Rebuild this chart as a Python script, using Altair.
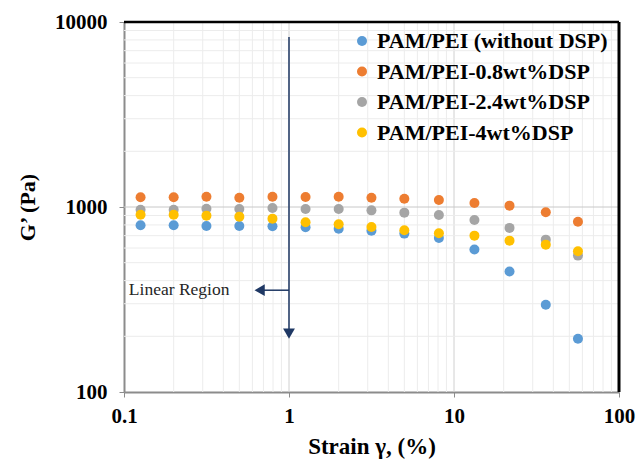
import altair as alt
import pandas as pd

# ---- data ----
strain = [0.126, 0.2, 0.316, 0.5, 0.794, 1.26, 2.0, 3.16, 5.0, 8.1, 13.3, 21.7, 36.0, 56.4]
g_pam = [796, 796, 790, 790, 787, 777, 764, 745, 718, 680, 589, 448, 296, 194]
g_08 = [1128, 1128, 1137, 1123, 1137, 1132, 1137, 1123, 1109, 1091, 1051, 1017, 936, 833]
g_24 = [967, 967, 979, 975, 988, 975, 975, 959, 932, 905, 851, 771, 666, 546]
g_4 = [909, 909, 898, 887, 865, 827, 806, 780, 749, 721, 700, 658, 626, 577]
series = ["PAM/PEI (without DSP)", "PAM/PEI-0.8wt%DSP", "PAM/PEI-2.4wt%DSP", "PAM/PEI-4wt%DSP"]
colors = ["#5B9BD5", "#ED7D31", "#A5A5A5", "#FFC000"]

x_ticks = [0.1, 1, 10, 100]
y_ticks = [100, 1000, 10000]
x_minor = [0.2, 0.3, 0.4, 0.5, 0.6, 0.7, 0.8, 0.9, 2, 3, 4, 5, 6, 7, 8, 9,
           20, 30, 40, 50, 60, 70, 80, 90]
y_minor = [200, 300, 400, 500, 600, 700, 800, 900,
           2000, 3000, 4000, 5000, 6000, 7000, 8000, 9000]
x_major = [1, 10]
y_major = [1000]

# annotation (data coordinates)
v_arrow_x = [1]
v_arrow_y = [8300]
v_arrow_y2 = [207]
h_arrow_y = [355]
h_arrow_x2 = [0.664]
note_text = ["Linear Region"]
note_x = [0.107]

rows = []
for name, vals in zip(series, [g_pam, g_08, g_24, g_4]):
    for s, g in zip(strain, vals):
        rows.append({"strain": s, "G": g, "series": name})
df = pd.DataFrame(rows)

xs = alt.Scale(type="log", domain=[0.1, 100], nice=False)
ys = alt.Scale(type="log", domain=[100, 10000], nice=False)
FONT = "Liberation Serif"

x_axis = alt.Axis(values=x_ticks, format="~g", grid=False,
                  labelFont=FONT, labelFontSize=21, labelFontWeight="bold", labelColor="black",
                  labelPadding=8, tickSize=5, tickColor="#8C8C8C", domainColor="#8C8C8C",
                  domainWidth=2, title="Strain γ, (%)", titleFont=FONT, titleFontSize=23,
                  titleFontWeight="bold", titleColor="black", titleX=247.5, titleY=61,
                  titleAlign="center", titleBaseline="alphabetic", labelFlush=False)
y_axis = alt.Axis(values=y_ticks, format="~g", grid=False,
                  labelFont=FONT, labelFontSize=21, labelFontWeight="bold", labelColor="black",
                  labelPadding=12, tickSize=5, tickColor="#8C8C8C", domainColor="#8C8C8C",
                  domainWidth=2, title="G’ (Pa)", titleFont=FONT, titleFontSize=22,
                  titleFontWeight="bold", titleColor="black", titleX=-97, titleY=185,
                  titleAngle=270, titleAlign="center", titleBaseline="middle", labelFlush=False)


def X(f):
    return alt.X(f, scale=xs, axis=x_axis)


def Y(f):
    return alt.Y(f, scale=ys, axis=y_axis)


vminor = alt.Chart(pd.DataFrame({"x": x_minor})).mark_rule(color="#ECECEC", strokeWidth=1).encode(
    x=X("x:Q"))
vmajor = alt.Chart(pd.DataFrame({"x": x_major})).mark_rule(color="#D0D0D0", strokeWidth=1).encode(
    x=X("x:Q"))
hminor = alt.Chart(pd.DataFrame({"y": y_minor})).mark_rule(color="#ECECEC", strokeWidth=1).encode(
    y=Y("y:Q"))
hmajor = alt.Chart(pd.DataFrame({"y": y_major})).mark_rule(color="#C8C8C8", strokeWidth=1).encode(
    y=Y("y:Q"))

frame_top = alt.Chart(pd.DataFrame({"a": [0]})).mark_rule(color="black", strokeWidth=2.5).encode(
    x=alt.value(0), x2=alt.value(495), y=alt.value(0))
frame_right = alt.Chart(pd.DataFrame({"a": [0]})).mark_rule(color="black", strokeWidth=3).encode(
    x=alt.value(495), y=alt.value(0), y2=alt.value(370))

points = alt.Chart(df).mark_circle(size=100, opacity=1).encode(
    x=X("strain:Q"),
    y=Y("G:Q"),
    color=alt.Color("series:N", scale=alt.Scale(domain=series, range=colors),
                    legend=alt.Legend(title=None, orient="none", legendX=227, legendY=8,
                                      labelFont=FONT, labelFontSize=22, labelFontWeight="bold",
                                      labelColor="black", symbolSize=100, symbolType="circle",
                                      rowPadding=8.5, labelOffset=4, padding=0,
                                      symbolStrokeWidth=0, labelLimit=400)),
)

arrow_color = "#1F3864"
vline = alt.Chart(pd.DataFrame({"x": v_arrow_x, "y": v_arrow_y, "y2": v_arrow_y2})).mark_rule(
    color=arrow_color, strokeWidth=1.5).encode(x=X("x:Q"), y=Y("y:Q"), y2="y2:Q")
vhead = alt.Chart(pd.DataFrame({"x": v_arrow_x, "y": v_arrow_y2})).mark_point(
    shape="triangle-down", filled=True, size=140, color=arrow_color, opacity=1).encode(
    x=X("x:Q"), y=Y("y:Q"))
hline = alt.Chart(pd.DataFrame({"x": v_arrow_x, "x2": h_arrow_x2, "y": h_arrow_y})).mark_rule(
    color=arrow_color, strokeWidth=1.5).encode(x=X("x:Q"), x2="x2:Q", y=Y("y:Q"))
hhead = alt.Chart(pd.DataFrame({"x": h_arrow_x2, "y": h_arrow_y})).mark_point(
    shape="triangle-left", filled=True, size=140, color=arrow_color, opacity=1).encode(
    x=X("x:Q"), y=Y("y:Q"))
note = alt.Chart(pd.DataFrame({"x": note_x, "y": h_arrow_y, "t": note_text})).mark_text(
    font=FONT, fontSize=17.5, color="#262626", align="left", baseline="middle").encode(
    x=X("x:Q"), y=Y("y:Q"), text="t:N")

chart = alt.layer(vminor, vmajor, hminor, hmajor, points, vline, vhead, hline, hhead, note,
                  frame_top, frame_right).properties(
    width=495, height=370,
    autosize=alt.AutoSizeParams(type="none"),
    padding={"left": 124, "top": 22, "right": 17, "bottom": 67},
    background="white",
).configure_view(stroke=None)

chart.save("out.html", embed_options={"renderer": "svg", "actions": False})
